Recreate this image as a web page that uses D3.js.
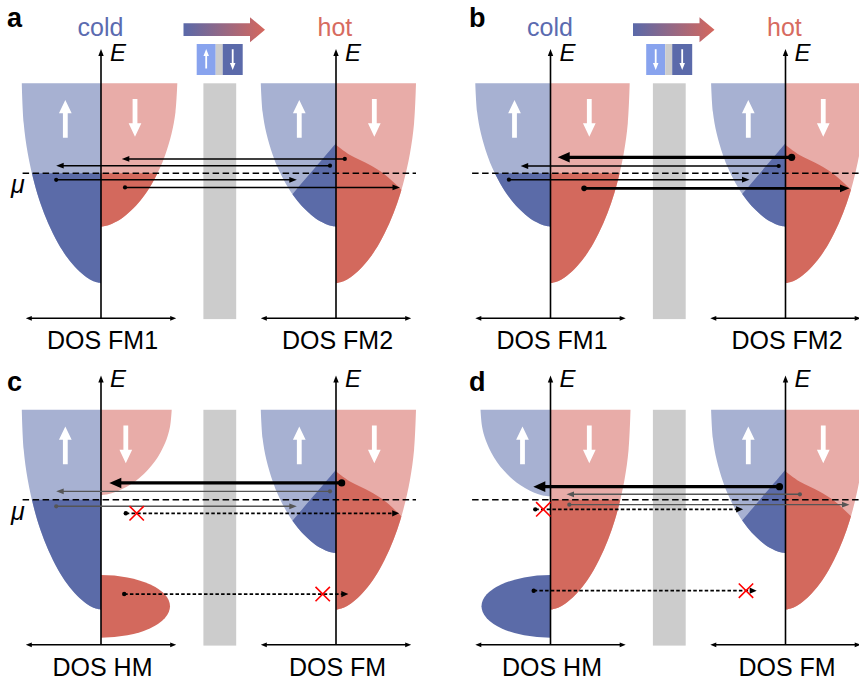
<!DOCTYPE html>
<html>
<head>
<meta charset="utf-8">
<script src="https://cdn.jsdelivr.net/npm/d3@7"></script>
<style>
body { margin: 0; background: #fff; }
text { font-family: "Liberation Sans", Arial, Helvetica, sans-serif; }
</style>
</head>
<body>
<div id="chart"></div>
<script>
"use strict";

// ---- data ----
// energy: mu = 0, band tops = 1 ; DOS: 1 unit = top width of a full band

const panels = ["a", "b", "c", "d"];
const leftLabels = {a: "DOS FM1", b: "DOS FM1", c: "DOS HM", d: "DOS HM"};
const rightLabels = {a: "DOS FM2", b: "DOS FM2", c: "DOS FM", d: "DOS FM"};
const iconSpins = {a: ["up", "down"], b: ["down", "down"]};

// shape of a band edge: fraction of its depth -> fraction of its top width
const profileDepth = [0, 0.2, 0.35, 0.5, 0.6, 0.7, 0.8, 0.87, 0.93, 0.97, 0.99, 1];
const profileWidth = [1, 0.976, 0.925, 0.841, 0.765, 0.667, 0.542, 0.428, 0.3, 0.183, 0.095, 0];

const bandTop = 1.0;

const bands = [
    {panel: "a", side: "L", spin: "up",   bottom: -1.222, width: 0.99},
    {panel: "a", side: "L", spin: "down", bottom: -0.593, width: 0.954},
    {panel: "a", side: "R", spin: "up",   bottom: -0.593, width: 0.94},
    {panel: "a", side: "R", spin: "down", bottom: -1.222, width: 1.0},
    {panel: "b", side: "L", spin: "up",   bottom: -0.593, width: 0.94},
    {panel: "b", side: "L", spin: "down", bottom: -1.222, width: 0.99},
    {panel: "b", side: "R", spin: "up",   bottom: -0.593, width: 0.93},
    {panel: "b", side: "R", spin: "down", bottom: -1.222, width: 1.0},
    {panel: "c", side: "L", spin: "up",   bottom: -1.222, width: 0.99},
    {panel: "c", side: "L", spin: "down", bottom: 0.053,  width: 0.884},
    {panel: "c", side: "R", spin: "up",   bottom: -0.593, width: 0.94},
    {panel: "c", side: "R", spin: "down", bottom: -1.222, width: 1.0},
    {panel: "d", side: "L", spin: "up",   bottom: 0.035,  width: 0.875},
    {panel: "d", side: "L", spin: "down", bottom: -1.222, width: 1.0},
    {panel: "d", side: "R", spin: "up",   bottom: -0.593, width: 0.93},
    {panel: "d", side: "R", spin: "down", bottom: -1.222, width: 1.0},
];

// deep half-metal pockets (center energy, half height, DOS extent)
const pockets = [
    {panel: "c", side: "L", spin: "down", center: -1.184, halfE: 0.348, width: 0.8625},
    {panel: "d", side: "L", spin: "up",   center: -1.184, halfE: 0.348, width: 0.8625},
];

// occupied edge of the hot electrode, (|DOS|, E)
const hotEdgeUp = [[0, 0.333], [0.534, -0.222], [1.3, -1.018]];
const hotEdgeDown = [[0, 0.315], [0.175, 0.204], [0.425, 0.093], [0.59, 0], [0.78, -0.149], [0.88, -0.24], [1.3, -0.6]];

// white spin arrows inside the bands
const spinMarks = [
    {panel: "a", side: "L", spin: "up", dos: -0.446}, {panel: "a", side: "L", spin: "down", dos: 0.425},
    {panel: "a", side: "R", spin: "up", dos: -0.459}, {panel: "a", side: "R", spin: "down", dos: 0.479},
    {panel: "b", side: "L", spin: "up", dos: -0.45},  {panel: "b", side: "L", spin: "down", dos: 0.485},
    {panel: "b", side: "R", spin: "up", dos: -0.465}, {panel: "b", side: "R", spin: "down", dos: 0.472},
    {panel: "c", side: "L", spin: "up", dos: -0.446}, {panel: "c", side: "L", spin: "down", dos: 0.31},
    {panel: "c", side: "R", spin: "up", dos: -0.459}, {panel: "c", side: "R", spin: "down", dos: 0.479},
    {panel: "d", side: "L", spin: "up", dos: -0.35},  {panel: "d", side: "L", spin: "down", dos: 0.485},
    {panel: "d", side: "R", spin: "up", dos: -0.465}, {panel: "d", side: "R", spin: "down", dos: 0.472},
];

// tunnelling processes
const transfers = [
    {panel: "a", from: ["R", 0.11],   to: ["L", 0.26],   E: 0.16,   kind: "thin"},
    {panel: "a", from: ["R", -0.075], to: ["L", -0.56],  E: 0.085,  kind: "thin"},
    {panel: "a", from: ["L", -0.56],  to: ["R", -0.49],  E: -0.072, kind: "thin"},
    {panel: "a", from: ["L", 0.30],   to: ["R", 0.80],   E: -0.157, kind: "thin"},
    {panel: "b", from: ["R", 0.077],  to: ["L", 0.09],   E: 0.178,  kind: "thick"},
    {panel: "b", from: ["R", -0.085], to: ["L", -0.373], E: 0.081,  kind: "thin"},
    {panel: "b", from: ["L", -0.52],  to: ["R", -0.45],  E: -0.071, kind: "thin"},
    {panel: "b", from: ["L", 0.42],   to: ["R", 0.80],   E: -0.167, kind: "medium"},
    {panel: "c", from: ["R", 0.071],  to: ["L", 0.104],  E: 0.187,  kind: "thick"},
    {panel: "c", from: ["R", -0.075], to: ["L", -0.56],  E: 0.094,  kind: "gray"},
    {panel: "c", from: ["L", -0.56],  to: ["R", -0.49],  E: -0.072, kind: "gray"},
    {panel: "c", from: ["L", 0.31],   to: ["R", 0.79],   E: -0.15,  kind: "dotted"},
    {panel: "c", from: ["L", 0.29],   to: ["R", 0.154],  E: -1.047, kind: "dotted"},
    {panel: "d", from: ["R", -0.075], to: ["L", -0.215], E: 0.146,  kind: "thick"},
    {panel: "d", from: ["R", 0.18],   to: ["L", 0.2],    E: 0.061,  kind: "gray"},
    {panel: "d", from: ["L", 0.235],  to: ["R", 0.8],    E: -0.054, kind: "gray"},
    {panel: "d", from: ["L", -0.19],  to: ["R", -0.53],  E: -0.106, kind: "dotted"},
    {panel: "d", from: ["L", -0.21],  to: ["R", -0.36],  E: -1.01,  kind: "dotted"},
];

// blocked processes
const blocked = [
    {panel: "c", side: "L", dos: 0.446,  E: -0.15},
    {panel: "c", side: "R", dos: -0.166, E: -1.047},
    {panel: "d", side: "L", dos: -0.09,  E: -0.106},
    {panel: "d", side: "R", dos: -0.494, E: -1.01},
];

const barrier = {left: 1.28, right: 1.69, top: 1.0, bottom: -1.62}; // left DOS units
const dosAxisE = -1.611;
const energyAxisTop = 1.381;
const muLine = {from: -0.98, to: 1.0};

// ---- layout ----
const WIDTH = 859;
const HEIGHT = 682;
const panelX = {a: 0, b: 449.5, c: 0, d: 449.5};
const panelY = {a: 0, b: 0, c: 326.5, d: 326.5};
const letterPos = {a: [7, 27], b: [469, 27], c: [7, 391], d: [469, 391]};

const colors = {
    up: {light: "#a7b1d2", dark: "#5b6ba8"},
    down: {light: "#e8aca8", dark: "#d3695d"},
};

const arrowStyle = {
    thin:   {color: "#000", width: 1.5, head: 7.5, half: 2.9, dot: 2.1, dash: null},
    medium: {color: "#000", width: 2.6, head: 9.5, half: 3.8, dot: 2.8, dash: null},
    thick:  {color: "#000", width: 3.3, head: 12,  half: 5.3, dot: 3.6, dash: null},
    gray:   {color: "#555", width: 1.4, head: 7.5, half: 2.9, dot: 2.1, dash: null},
    dotted: {color: "#000", width: 1.7, head: 7,   half: 3.1, dot: 2.2, dash: "3.5,2.2"},
};

const yE = d3.scaleLinear().domain([0, 1]).range([173.3, 83.3]);
const xDos = {
    L: d3.scaleLinear().domain([-1, 1]).range([21, 181]),
    R: d3.scaleLinear().domain([-1, 1]).range([256, 416]),
};

const svg = d3.select("#chart").append("svg")
    .attr("width", WIDTH)
    .attr("height", HEIGHT);

const defs = svg.append("defs");

let grad = defs.append("linearGradient").attr("id", "warm");
grad.append("stop").attr("offset", "0%").attr("stop-color", "#5a69a9");
grad.append("stop").attr("offset", "100%").attr("stop-color", "#d5675d");

// cold electrode: occupied below mu
defs.append("clipPath").attr("id", "clip-cold")
    .append("rect")
    .attr("x", -50).attr("y", yE(0))
    .attr("width", 600).attr("height", 400);

function hotClip(edge, sign) {
    const pts = edge.map(d => [xDos.R(sign * d[0]), yE(d[1])]);
    const last = edge[edge.length - 1];
    const c = d3.line().curve(d3.curveCatmullRom)(pts);
    return `M${xDos.R(-sign * 0.02)},${yE(edge[0][1])}L${c.slice(1)}` +
        `L${xDos.R(sign * last[0])},${yE(-3)}L${xDos.R(-sign * 0.02)},${yE(-3)}Z`;
}
defs.append("clipPath").attr("id", "clip-hot-up")
    .append("path").attr("d", hotClip(hotEdgeUp, -1));
defs.append("clipPath").attr("id", "clip-hot-down")
    .append("path").attr("d", hotClip(hotEdgeDown, 1));

function bandPath(b) {
    const x = xDos[b.side];
    const sign = b.spin === "up" ? -1 : 1;
    const edge = profileDepth.map((s, i) => [
        x(sign * b.width * profileWidth[i]),
        yE(bandTop - s * (bandTop - b.bottom)),
    ]);
    const c = d3.line().curve(d3.curveCatmullRom)(edge);
    return `M${x(0)},${yE(bandTop)}L${c.slice(1)}L${x(0)},${yE(b.bottom)}Z`;
}

function pocketPath(p) {
    const x = xDos[p.side];
    const rx = Math.abs(x(p.width) - x(0));
    const ry = Math.abs(yE(p.center - p.halfE) - yE(p.center));
    const sweep = p.spin === "up" ? 0 : 1;
    return `M${x(0)},${yE(p.center + p.halfE)}A${rx},${ry} 0 0 ${sweep} ${x(0)},${yE(p.center - p.halfE)}Z`;
}

function spinArrow(g, cx, yTail, yTip, shaft, headW, headL) {
    const dir = Math.sign(yTip - yTail);
    const yBase = yTip - dir * headL;
    g.append("path")
        .attr("d", `M${cx - shaft / 2},${yTail}L${cx - shaft / 2},${yBase}L${cx - headW / 2},${yBase}` +
            `L${cx},${yTip}L${cx + headW / 2},${yBase}L${cx + shaft / 2},${yBase}L${cx + shaft / 2},${yTail}Z`)
        .attr("fill", "#fff");
}

function drawTransfer(g, t) {
    const st = arrowStyle[t.kind];
    const x0 = xDos[t.from[0]](t.from[1]);
    const x1 = xDos[t.to[0]](t.to[1]);
    const y = yE(t.E);
    const dir = Math.sign(x1 - x0);
    g.append("line")
        .attr("x1", x0).attr("y1", y)
        .attr("x2", x1 - dir * st.head * 0.7).attr("y2", y)
        .attr("stroke", st.color)
        .attr("stroke-width", st.width)
        .attr("stroke-dasharray", st.dash);
    g.append("path")
        .attr("d", `M${x1},${y}L${x1 - dir * st.head},${y - st.half}L${x1 - dir * st.head},${y + st.half}Z`)
        .attr("fill", st.color);
    g.append("circle")
        .attr("cx", x0).attr("cy", y).attr("r", st.dot)
        .attr("fill", st.color);
}

panels.forEach(p => {
    const g = svg.append("g").attr("transform", `translate(${panelX[p]},${panelY[p]})`);

    // bands: empty states, then occupied part
    const pb = bands.filter(b => b.panel === p);
    g.selectAll(".band").data(pb).join("path")
        .attr("class", "band")
        .attr("d", bandPath)
        .attr("fill", b => colors[b.spin].light);
    g.selectAll(".occ").data(pb).join("path")
        .attr("class", "occ")
        .attr("d", bandPath)
        .attr("fill", b => colors[b.spin].dark)
        .attr("clip-path", b => b.side === "L" ? "url(#clip-cold)" : `url(#clip-hot-${b.spin})`);
    g.selectAll(".pocket").data(pockets.filter(d => d.panel === p)).join("path")
        .attr("class", "pocket")
        .attr("d", pocketPath)
        .attr("fill", d => colors[d.spin].dark);

    // tunnel barrier
    g.append("rect")
        .attr("x", xDos.L(barrier.left))
        .attr("y", yE(barrier.top))
        .attr("width", xDos.L(barrier.right) - xDos.L(barrier.left))
        .attr("height", yE(barrier.bottom) - yE(barrier.top))
        .attr("fill", "#cccccc");

    // chemical potential
    g.append("line")
        .attr("x1", xDos.L(muLine.from)).attr("x2", xDos.R(muLine.to))
        .attr("y1", yE(0)).attr("y2", yE(0))
        .attr("stroke", "#000")
        .attr("stroke-width", 1.4)
        .attr("stroke-dasharray", "6.5,3.5");

    // axes
    ["L", "R"].forEach(side => {
        const x = xDos[side];
        g.append("line")
            .attr("x1", x(0)).attr("x2", x(0))
            .attr("y1", yE(dosAxisE)).attr("y2", yE(energyAxisTop) + 5)
            .attr("stroke", "#000").attr("stroke-width", 1.6);
        g.append("path")
            .attr("d", `M${x(0)},${yE(energyAxisTop)}L${x(0) - 2.7},${yE(energyAxisTop) + 7}L${x(0) + 2.7},${yE(energyAxisTop) + 7}Z`)
            .attr("fill", "#000");
        const ya = yE(dosAxisE);
        g.append("line")
            .attr("x1", x(-0.94) + 4).attr("x2", x(0.94) - 4)
            .attr("y1", ya).attr("y2", ya)
            .attr("stroke", "#000").attr("stroke-width", 1.4);
        g.append("path")
            .attr("d", `M${x(-0.94)},${ya}L${x(-0.94) + 6},${ya - 2.4}L${x(-0.94) + 6},${ya + 2.4}Z` +
                `M${x(0.94)},${ya}L${x(0.94) - 6},${ya - 2.4}L${x(0.94) - 6},${ya + 2.4}Z`)
            .attr("fill", "#000");
        g.append("text")
            .attr("x", x(0) + 9).attr("y", 60.5)
            .attr("font-size", 24).attr("font-style", "italic")
            .text("E");
        g.append("text")
            .attr("x", x(0) + 1.5).attr("y", 349)
            .attr("font-size", 25).attr("text-anchor", "middle")
            .text(side === "L" ? leftLabels[p] : rightLabels[p]);
    });

    // spin arrows in bands
    spinMarks.filter(d => d.panel === p).forEach(d => {
        const cx = xDos[d.side](d.dos);
        if (d.spin === "up") spinArrow(g, cx, yE(0.396), yE(0.815), 4.8, 12.7, 13.3);
        else spinArrow(g, cx, yE(0.826), yE(0.407), 4.8, 12.7, 13.3);
    });

    if (p === "a" || p === "c") {
        g.append("text")
            .attr("x", 11).attr("y", 193)
            .attr("font-size", 25).attr("font-style", "italic")
            .text("μ");
    }

    if (iconSpins[p]) {
        g.append("text").attr("x", 77.5).attr("y", 35.5)
            .attr("font-size", 25).attr("fill", "#5b6bb0").text("cold");
        g.append("text").attr("x", 317.5).attr("y", 35.5)
            .attr("font-size", 25).attr("fill", "#d76b60").text("hot");
        g.append("path")
            .attr("d", "M183.5,23.3L250,23.3L250,17.3L265,29.7L250,42.3L250,36L183.5,36Z")
            .attr("fill", "url(#warm)");
        g.append("rect").attr("x", 196.7).attr("y", 44).attr("width", 19).attr("height", 31).attr("fill", "#88a3ee");
        g.append("rect").attr("x", 215.7).attr("y", 44).attr("width", 7).attr("height", 31).attr("fill", "#cccccc");
        g.append("rect").attr("x", 222.7).attr("y", 44).attr("width", 20).attr("height", 31).attr("fill", "#5b6aaa");
        [206.2, 232.7].forEach((cx, i) => {
            if (iconSpins[p][i] === "up") spinArrow(g, cx, 68.5, 49, 1.8, 5.5, 7);
            else spinArrow(g, cx, 49.3, 70, 1.8, 5.5, 7);
        });
    }

    // tunnelling arrows
    transfers.filter(t => t.panel === p).forEach(t => drawTransfer(g, t));

    // blocked marks
    blocked.filter(d => d.panel === p).forEach(d => {
        const cx = xDos[d.side](d.dos), cy = yE(d.E), r = 7.2;
        g.append("path")
            .attr("d", `M${cx - r},${cy - r}L${cx + r},${cy + r}M${cx - r},${cy + r}L${cx + r},${cy - r}`)
            .attr("stroke", "#ff0000").attr("stroke-width", 1.6).attr("fill", "none");
    });
});

panels.forEach(p => {
    svg.append("text")
        .attr("x", letterPos[p][0]).attr("y", letterPos[p][1])
        .attr("font-size", 27).attr("font-weight", "bold")
        .text(p);
});
</script>
</body>
</html>
